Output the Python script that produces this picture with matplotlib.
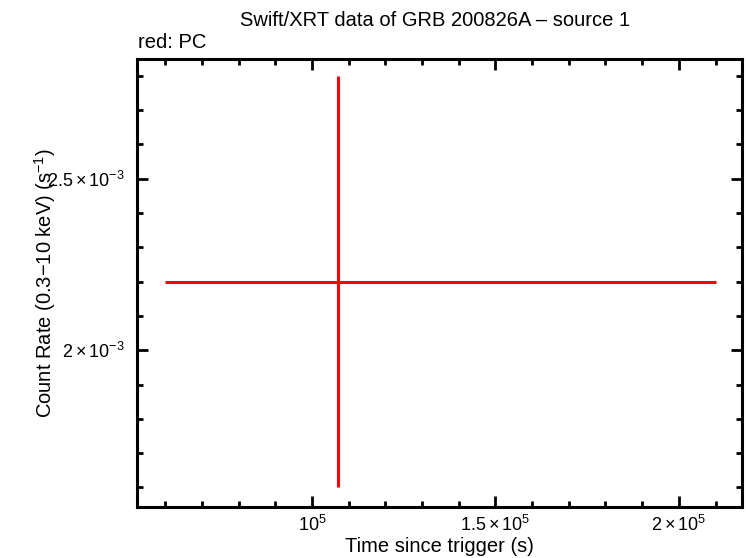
import numpy as np
import matplotlib
matplotlib.use('Agg')
import matplotlib.pyplot as plt
from matplotlib.ticker import FixedLocator, MultipleLocator, FixedFormatter

# one PC-mode bin
time = [1.07e5]
time_err_lo = [4.7e4]
time_err_hi = [1.03e5]
rate = [2.2e-3]
rate_err = [6.0e-4]

x_ticks = [1e5, 1.5e5, 2e5]
x_labels = [r'$10^5$', r'$1.5\times10^5$', r'$2\times10^5$']
y_ticks = [2e-3, 2.5e-3]
y_labels = [r'$2\times10^{-3}$', r'$2.5\times10^{-3}$']

plt.rcParams['font.family'] = ['Liberation Sans', 'DejaVu Sans']
plt.rcParams['mathtext.fontset'] = 'custom'
plt.rcParams['mathtext.rm'] = 'Liberation Sans'
plt.rcParams['mathtext.it'] = 'Liberation Sans'

fig = plt.figure(figsize=(7.46, 5.58), dpi=100)
ax = fig.add_axes([0.1836, 0.0914, 0.8110, 0.8034])

ax.errorbar(time, rate, xerr=[time_err_lo, time_err_hi], yerr=rate_err,
            fmt='none', ecolor='red', elinewidth=2.2, capsize=0)

ax.set_xlim(5.23e4, 2.172e5)
ax.set_ylim(1.543e-3, 2.85e-3)

ax.xaxis.set_major_locator(FixedLocator(x_ticks))
ax.xaxis.set_major_formatter(FixedFormatter(x_labels))
ax.xaxis.set_minor_locator(MultipleLocator(1e4))
ax.yaxis.set_major_locator(FixedLocator(y_ticks))
ax.yaxis.set_major_formatter(FixedFormatter(y_labels))
ax.yaxis.set_minor_locator(MultipleLocator(1e-4))

ax.tick_params(which='both', direction='in', top=True, right=True,
               width=2, labelsize=13)
ax.tick_params(axis='y', pad=9)
ax.tick_params(axis='x', pad=6)
ax.tick_params(which='major', length=8)
ax.tick_params(which='minor', length=4)
for s in ax.spines.values():
    s.set_linewidth(2.2)

ax.set_xlabel('Time since trigger (s)', fontsize=14.5, labelpad=1)
ax.set_ylabel(r'Count Rate (0.3$-$10 keV) (s$^{-1}$)', fontsize=14.5)
ax.yaxis.set_label_coords(-0.13, 0.5)
fig.text(0.583, 0.964, 'Swift/XRT data of GRB 200826A \u2013 source 1',
         ha='center', va='center', fontsize=14.5)
fig.text(0.185, 0.924, 'red: PC', ha='left', va='center', fontsize=14.5)

fig.savefig('out.png', dpi=100)
